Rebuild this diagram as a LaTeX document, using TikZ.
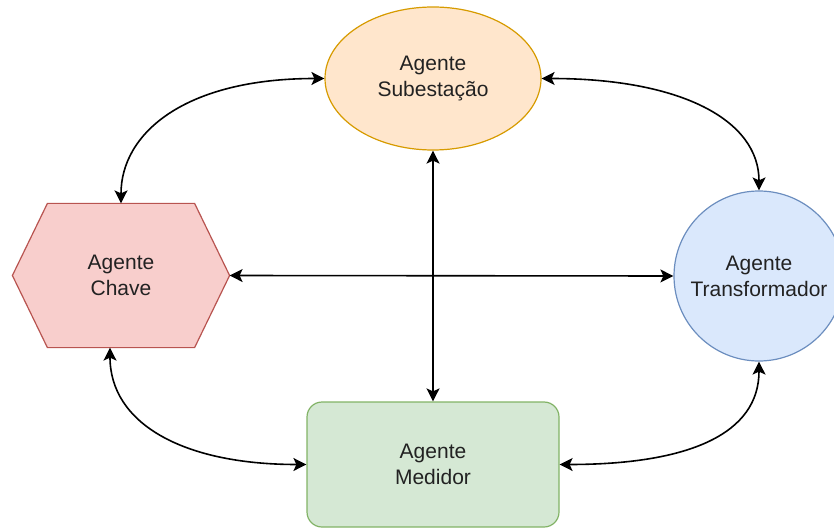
\documentclass[tikz,border=0pt]{standalone}
\usepackage{fontspec}
\setmainfont{Liberation Sans}
\usetikzlibrary{shapes.geometric,arrows.meta,backgrounds}

\definecolor{subFill}{HTML}{FFE6CC}
\definecolor{subLine}{HTML}{D79B00}
\definecolor{chvFill}{HTML}{F8CECC}
\definecolor{chvLine}{HTML}{B85450}
\definecolor{trfFill}{HTML}{DAE8FC}
\definecolor{trfLine}{HTML}{6C8EBF}
\definecolor{medFill}{HTML}{D5E8D4}
\definecolor{medLine}{HTML}{82B366}
\definecolor{label}{HTML}{222222}

\tikzset{
  agent/.style={inner sep=0pt, align=center, text=label, line width=1.2pt,
    font=\fontsize{21pt}{26pt}\selectfont},
  link/.style={line width=1.6pt, black,
    {Stealth[length=13pt,width=13pt,inset=3pt]}-{Stealth[length=13pt,width=13pt,inset=3pt]}},
}

\begin{document}
\begin{tikzpicture}[x=1pt,y=-1pt]
  \useasboundingbox (0,0) rectangle (834,529);
  \clip (0,0) rectangle (834,529);

  % agents
  \node[agent, ellipse, draw=subLine, fill=subFill,
        minimum width=216pt, minimum height=143pt] (sub) at (433,78.5)
        {Agente\\Subestação};
  \node[agent, rectangle, minimum width=216pt, minimum height=143pt] (chv) at (121,275.5)
        {Agente\\Chave};
  \node[agent, circle, draw=trfLine, fill=trfFill, minimum size=170pt] (trf) at (759,276)
        {Agente\\Transformador};
  \node[agent, rectangle, rounded corners=15pt, draw=medLine, fill=medFill,
        minimum width=252pt, minimum height=125pt] (med) at (433,464.5)
        {Agente\\Medidor};

  % hexagon outline behind the "Chave" label
  \begin{scope}[on background layer]
    \filldraw[draw=chvLine, fill=chvFill, line width=1.2pt, line join=miter]
      (chv.west) -- ([xshift=35pt]chv.north west) -- ([xshift=-35pt]chv.north east)
      -- (chv.east) -- ([xshift=-35pt]chv.south east) -- ([xshift=35pt]chv.south west)
      -- cycle;
  \end{scope}

  % curved links around the ring
  \draw[link] (chv.north) .. controls +(0,-70) and +(-140,0) .. (sub.west);
  \draw[link] (sub.east) .. controls +(140,0) and +(0,-70) .. (trf.north);
  \draw[link] ([xshift=-11pt]chv.south) .. controls +(0,75) and +(-125,0) .. (med.west);
  \draw[link] (med.east) .. controls +(130,0) and +(0,72) .. (trf.south);

  % straight links through the middle
  \draw[link] (chv.east) -- (trf.west);
  \draw[link] (sub.south) -- (med.north);
\end{tikzpicture}
\end{document}
